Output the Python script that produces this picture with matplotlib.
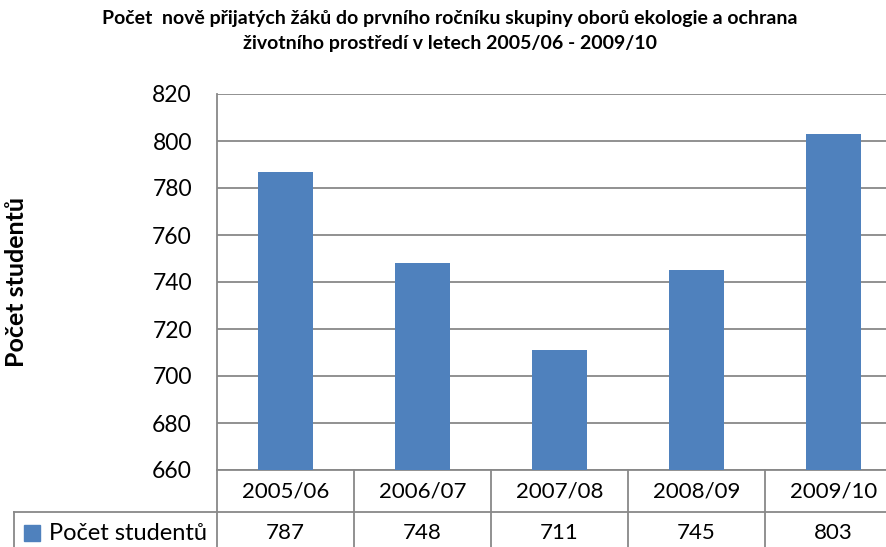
import matplotlib
matplotlib.use("Agg")
import matplotlib.pyplot as plt
import matplotlib.transforms as mtransforms
from matplotlib.patches import Rectangle

plt.rcParams['font.family'] = ['Lato', 'DejaVu Sans']

years = ['2005/06', '2006/07', '2007/08', '2008/09', '2009/10']
students = [787, 748, 711, 745, 803]
series_name = 'Počet studentů'
title = ('Počet  nově přijatých žáků do prvního ročníku skupiny oborů ekologie a ochrana\n'
         'životního prostředí v letech 2005/06 - 2009/10')

bar_color = '#4F81BD'
line_color = '#888888'

fig = plt.figure(figsize=(8.87, 5.47), dpi=100)
ax = fig.add_axes([217 / 887, 1 - 470 / 547, 685 / 887, 376 / 547])

x = list(range(len(years)))
ax.bar(x, students, width=0.4, color=bar_color, zorder=3)
ax.set_xlim(-0.5, len(years) - 0.5)
ax.set_ylim(660, 820)
ax.set_yticks(range(660, 821, 20))
ax.set_xticks([])
ax.tick_params(axis='y', length=0, pad=18, labelsize=16.5)
ax.yaxis.grid(True, color=line_color, linewidth=1.3)
ax.set_axisbelow(True)
for s in ['top', 'right', 'bottom']:
    ax.spines[s].set_visible(False)
ax.spines['left'].set_color(line_color)
ax.spines['left'].set_linewidth(1.3)

ax.set_ylabel(series_name, fontsize=18, fontweight='bold', va='center')
ax.yaxis.set_label_coords(-200 / 685, 0.5)
fig.text(0.507, 0.982, title, ha='center', va='top', fontsize=14,
         fontweight='bold', linespacing=1.6)

# data table under the axis
trans = mtransforms.blended_transform_factory(ax.transData, ax.transAxes)
row1 = -42 / 376
row2 = -84 / 376
lw = 1.3
for i in range(len(years) + 1):
    ax.plot([i - 0.5, i - 0.5], [0, row2], transform=trans, color=line_color,
            lw=lw, clip_on=False)
ax.plot([-0.5, len(years) - 0.5], [0, 0], transform=trans, color=line_color,
        lw=lw, clip_on=False)
# row separator, extends left over the legend cell
ax.plot([-0.5 - 203 / 137, len(years) - 0.5], [row1, row1], transform=trans,
        color=line_color, lw=lw, clip_on=False)
ax.plot([-0.5 - 203 / 137] * 2, [row1, row2], transform=trans,
        color=line_color, lw=lw, clip_on=False)

for i, (yr, v) in enumerate(zip(years, students)):
    ax.text(i, row1 / 2, yr, transform=trans, ha='center', va='center',
            fontsize=16, clip_on=False)
    ax.text(i, (row1 + row2) / 2, str(v), transform=trans, ha='center',
            va='center', fontsize=16, clip_on=False)

ax.add_patch(Rectangle((-0.5 - 193 / 137, (row1 + row2) / 2 - 8 / 376),
                       16 / 137, 16 / 376, transform=trans, color=bar_color,
                       clip_on=False))
ax.text(-0.5 - 10 / 137, (row1 + row2) / 2, series_name, transform=trans,
        ha='right', va='center', fontsize=17, clip_on=False)

fig.savefig('out.png', dpi=100)
